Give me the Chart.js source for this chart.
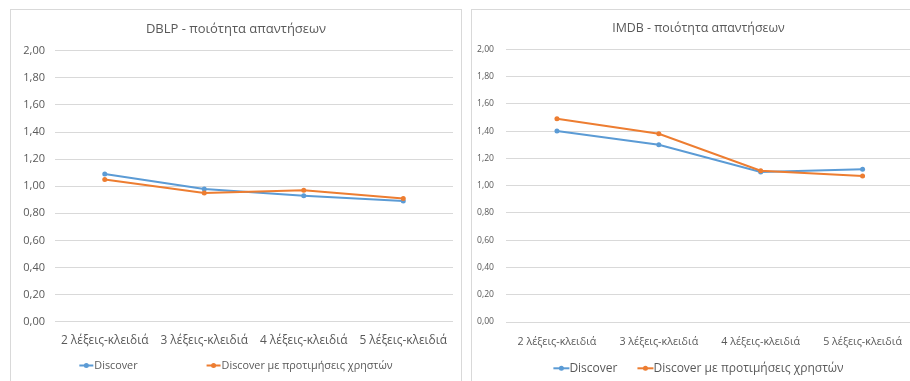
<!DOCTYPE html>
<html>
<head>
<meta charset="utf-8">
<script src="https://cdn.jsdelivr.net/npm/chart.js@4.4.1/dist/chart.umd.min.js"></script>
<style>
  html, body { margin: 0; padding: 0; background: #fff; overflow: hidden; }
  #page { position: relative; width: 910px; height: 381px; overflow: hidden; background: #fff; }
  .chart-box { position: absolute; top: 9px; border: 1px solid #d9d9d9; background: #fff; }
  .chart-box canvas { display: block; }
</style>
</head>
<body>
<div id="page">
  <div class="chart-box" style="left:10px; width:450px; height:372px;">
    <canvas id="dblpChart" width="450" height="372"></canvas>
  </div>
  <div class="chart-box" style="left:471px; width:453px; height:372px;">
    <canvas id="imdbChart" width="453" height="372"></canvas>
  </div>
</div>
<script>
const keywordLabels = ['2 λέξεις-κλειδιά', '3 λέξεις-κλειδιά', '4 λέξεις-κλειδιά', '5 λέξεις-κλειδιά'];
const seriesNames = ['Discover', 'Discover με προτιμήσεις χρηστών'];

const dblpDiscover = [1.09, 0.98, 0.93, 0.89];
const dblpPreferences = [1.05, 0.95, 0.97, 0.91];

const imdbDiscover = [1.40, 1.30, 1.10, 1.12];
const imdbPreferences = [1.49, 1.38, 1.11, 1.07];

const yTickValues = [0, 0.2, 0.4, 0.6, 0.8, 1.0, 1.2, 1.4, 1.6, 1.8, 2.0];

const FONT = '"Open Sans", "Noto Sans", sans-serif';
const TEXT_COLOR = '#595959';
const BLUE = '#5b9bd5';
const ORANGE = '#ed7d31';

// legend drawn under the x labels: short line with a dot, then the series name
const lineLegend = {
  id: 'lineLegend',
  afterDraw(chart, args, opts) {
    const { ctx, chartArea } = chart;
    ctx.save();
    ctx.font = `${opts.size}px ${FONT}`;
    const items = chart.data.datasets.map(ds => ({
      ds,
      w: opts.marker + opts.textGap + ctx.measureText(ds.label).width,
    }));
    const total = items.reduce((s, it) => s + it.w, 0) + opts.gap * (items.length - 1);
    let x = (chart.width - total) / 2;
    const y = chartArea.bottom + opts.offset;
    items.forEach(({ ds, w }) => {
      ctx.strokeStyle = ds.borderColor;
      ctx.lineWidth = 2;
      ctx.beginPath();
      ctx.moveTo(x, y);
      ctx.lineTo(x + opts.marker, y);
      ctx.stroke();
      ctx.fillStyle = ds.borderColor;
      ctx.beginPath();
      ctx.arc(x + opts.marker / 2, y, 2.5, 0, Math.PI * 2);
      ctx.fill();
      ctx.fillStyle = TEXT_COLOR;
      ctx.textAlign = 'left';
      ctx.textBaseline = 'middle';
      ctx.fillText(ds.label, x + opts.marker + opts.textGap, y);
      x += w + opts.gap;
    });
    ctx.restore();
  },
};

function makeDataset(label, values, color, order) {
  return {
    label,
    data: values,
    borderColor: color,
    backgroundColor: color,
    borderWidth: 2,
    pointRadius: 2.5,
    pointHoverRadius: 2.5,
    pointBorderWidth: 0,
    tension: 0,
    order,
  };
}

function buildChart(canvasId, cfg) {
  const ctx = document.getElementById(canvasId).getContext('2d');
  return new Chart(ctx, {
    type: 'line',
    data: {
      labels: keywordLabels,
      datasets: [
        makeDataset(seriesNames[0], cfg.discover, BLUE, 1),
        makeDataset(seriesNames[1], cfg.preferences, ORANGE, 0),
      ],
    },
    options: {
      responsive: false,
      animation: false,
      events: [],
      layout: { padding: { left: 0, right: 0, top: 0, bottom: cfg.padBottom } },
      plugins: {
        legend: { display: false },
        tooltip: { enabled: false },
        title: {
          display: true,
          text: cfg.title,
          color: TEXT_COLOR,
          font: { family: FONT, size: cfg.titleSize, weight: 'normal', lineHeight: 1.2 },
          padding: cfg.titlePadding,
        },
        lineLegend: cfg.legend,
      },
      scales: {
        x: {
          offset: true,
          grid: { display: false, drawTicks: false },
          border: { display: false },
          ticks: {
            color: TEXT_COLOR,
            font: { family: FONT, size: cfg.xTickSize, lineHeight: 1.2 },
            padding: cfg.xTickPadding,
            maxRotation: 0,
            autoSkip: false,
          },
          afterFit(scale) { scale.height = 30; },
        },
        y: {
          min: 0,
          max: 2,
          afterBuildTicks(scale) { scale.ticks = yTickValues.map(v => ({ value: v })); },
          grid: { color: '#d9d9d9', lineWidth: 1, drawTicks: false },
          border: { display: false },
          ticks: {
            color: TEXT_COLOR,
            font: { family: FONT, size: cfg.yTickSize },
            padding: cfg.yTickPadding,
            callback: v => v.toFixed(2).replace('.', ','),
          },
          afterFit(scale) { scale.width = cfg.yAxisWidth; },
        },
        // empty strip on the right so the plot stops short of the frame
        // while the title stays centred on the whole canvas
        gutter: {
          type: 'linear',
          position: 'right',
          grid: { display: false, drawTicks: false },
          border: { display: false },
          ticks: { display: false },
          afterFit(scale) { scale.width = cfg.padRight; },
        },
      },
    },
    plugins: [lineLegend],
  });
}

buildChart('dblpChart', {
  title: 'DBLP - ποιότητα απαντήσεων',
  discover: dblpDiscover,
  preferences: dblpPreferences,
  titleSize: 13,
  titlePadding: { top: 11.2, bottom: 13.9 },
  padRight: 8,
  padBottom: 30.3,
  yAxisWidth: 44,
  yTickSize: 11,
  yTickPadding: 10,
  xTickSize: 11.9,
  xTickPadding: 11.8,
  legend: { size: 10.8, marker: 14, textGap: 1, gap: 69, offset: 43.8 },
});

buildChart('imdbChart', {
  title: 'IMDB - ποιότητα απαντήσεων',
  discover: imdbDiscover,
  preferences: imdbPreferences,
  titleSize: 12.4,
  titlePadding: { top: 11.1, bottom: 13.3 },
  padRight: 11.5,
  padBottom: 30,
  yAxisWidth: 34,
  yTickSize: 8.6,
  yTickPadding: 12,
  xTickSize: 10.7,
  xTickPadding: 13.6,
  legend: { size: 12, marker: 16, textGap: 0, gap: 20, offset: 46.3 },
});
</script>
</body>
</html>
